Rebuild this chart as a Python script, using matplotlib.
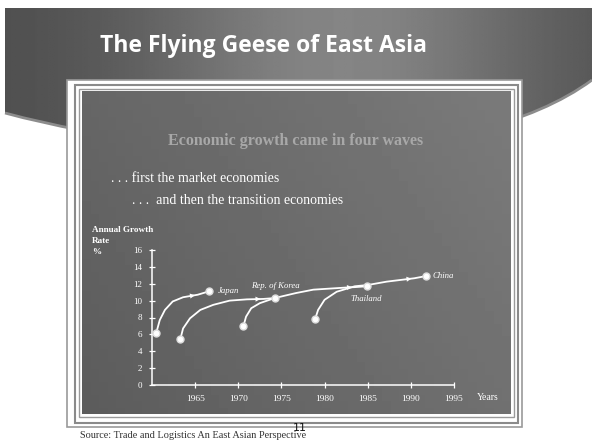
import numpy as np
import matplotlib
matplotlib.use("Agg")
import matplotlib.pyplot as plt
from matplotlib.path import Path
from matplotlib.patches import PathPatch, Rectangle

# four waves (year, growth rate %)
japan_x = [1960.5, 1960.9, 1961.5, 1962.4, 1963.6, 1965.3, 1966.6]
japan_y = [6.2, 7.7, 8.9, 9.9, 10.4, 10.7, 11.1]
korea_x = [1963.3, 1963.6, 1964.4, 1965.6, 1967.1, 1969.0, 1971.0, 1972.9, 1974.2]
korea_y = [5.5, 6.7, 7.9, 8.9, 9.5, 10.0, 10.15, 10.2, 10.3]
thai_x = [1970.6, 1970.9, 1971.5, 1972.5, 1974.2, 1976.7, 1978.7, 1982.5, 1983.5, 1984.9]
thai_y = [7.0, 8.1, 9.1, 9.7, 10.3, 10.9, 11.3, 11.55, 11.6, 11.7]
china_x = [1978.9, 1979.25, 1980.0, 1981.4, 1983.5, 1985.0, 1987.2, 1990.4, 1991.7]
china_y = [7.8, 8.9, 10.1, 11.05, 11.7, 11.85, 12.25, 12.65, 12.9]

series = [(japan_x, japan_y), (korea_x, korea_y), (thai_x, thai_y), (china_x, china_y)]
arrow_idx = [5, 7, 8, 7]          # where the arrow heads sit on each line
labels = ["Japan", "Rep. of Korea", "Thailand", "China"]

years = [1965, 1970, 1975, 1980, 1985, 1990, 1995]
rates = [0, 2, 4, 6, 8, 10, 12, 14, 16]

serif = ["Liberation Serif", "DejaVu Serif"]

fig = plt.figure(figsize=(5.92, 4.43), dpi=100)
bg = fig.add_axes([0, 0, 1, 1])
bg.set_xlim(0, 592)
bg.set_ylim(443, 0)
bg.axis("off")

# curved grey banner at the top
verts = [(5, 8), (592, 8), (592, 80), (470, 170), (200, 165), (5, 113), (5, 8)]
codes = [Path.MOVETO, Path.LINETO, Path.LINETO, Path.CURVE4, Path.CURVE4, Path.CURVE4, Path.CLOSEPOLY]
banner = PathPatch(Path(verts, codes), facecolor="none", edgecolor="none")
bg.add_patch(banner)
xx = np.linspace(0, 1, 300)
shade = 0.30 + 0.22 * np.exp(-((xx - 0.58) / 0.35) ** 2)
grad = np.tile(shade, (40, 1))
im = bg.imshow(grad, cmap="gray", vmin=0, vmax=1, extent=(0, 592, 180, 0), aspect="auto", zorder=1)
im.set_clip_path(banner)
edge_path = Path([(592, 80), (470, 170), (200, 165), (5, 113)], [Path.MOVETO, Path.CURVE4, Path.CURVE4, Path.CURVE4])
bg.add_patch(PathPatch(edge_path, facecolor="none", edgecolor="#8c8c8c", lw=2, zorder=1.5))

bg.text(264, 46, "The Flying Geese of East Asia", color="white", fontsize=16.5,
        fontweight="bold", family="Open Sans", ha="center", va="center", zorder=3)

# slide frame
bg.add_patch(Rectangle((67, 80), 455, 347, facecolor="white", edgecolor="#9a9a9a", lw=1.2, zorder=2))
bg.add_patch(Rectangle((75, 85), 443, 338, facecolor="white", edgecolor="#8a8a8a", lw=1.5, zorder=2))
bg.add_patch(Rectangle((79, 89), 435, 328, facecolor="white", edgecolor="#9a9a9a", lw=1.0, zorder=2))
panel = Rectangle((82, 91), 429, 323, facecolor="none", edgecolor="none", zorder=2)
bg.add_patch(panel)
gy, gx = np.mgrid[0:1:50j, 0:1:50j]
pgrad = 0.36 + 0.08 * gx + 0.04 * (1 - gy)
pim = bg.imshow(pgrad, cmap="gray", vmin=0, vmax=1, extent=(82, 511, 414, 91), aspect="auto", zorder=2.1)
pim.set_clip_path(panel)

bg.text(296, 141, "Economic growth came in four waves", color="#a8a8a8", fontsize=11.5,
        fontweight="bold", family=serif, ha="center", va="center", zorder=3)
bg.text(111, 178, ". . . first the market economies", color="white", fontsize=10,
        family=serif, ha="left", va="center", zorder=3)
bg.text(132, 200, ". . .  and then the transition economies", color="white", fontsize=10,
        family=serif, ha="left", va="center", zorder=3)
for txt, ty in [("Annual Growth", 230), ("Rate", 241), ("%", 252)]:
    bg.text(92, ty, txt, color="white", fontsize=6.6, fontweight="bold",
            family=serif, ha="left", va="center", zorder=3)
bg.text(477, 397, "Years", color="white", fontsize=7, family=serif, ha="left", va="center", zorder=3)

bg.text(80, 436, "Source: Trade and Logistics An East Asian Perspective", color="#333333",
        fontsize=7.4, family=serif, ha="left", va="center", zorder=3)
bg.text(300, 428, "11", color="#111111", fontsize=8, ha="center", va="center", zorder=4)

# the chart itself
ax = fig.add_axes([152 / 592, 1 - 385 / 443, 302 / 592, 135 / 443])
ax.patch.set_alpha(0)
ax.set_xlim(1960, 1995)
ax.set_ylim(0, 16)
for s in ["top", "right"]:
    ax.spines[s].set_visible(False)
for s in ["left", "bottom"]:
    ax.spines[s].set_color("white")
    ax.spines[s].set_linewidth(1.1)
ax.set_xticks(years)
ax.set_yticks(rates)
ax.tick_params(colors="white", direction="inout", length=4, width=0.9, labelsize=6.5, pad=5)
ax.tick_params(axis="x", labelsize=6.8)
for t in ax.get_xticklabels() + ax.get_yticklabels():
    t.set_family(serif)

for (sx, sy), ai in zip(series, arrow_idx):
    ax.plot(sx, sy, color="white", lw=1.3, clip_on=False, zorder=3)
    ax.plot([sx[0], sx[-1]], [sy[0], sy[-1]], "o", ms=5, color="white",
            mec="#dddddd", clip_on=False, zorder=4)
    ax.annotate("", xy=(sx[ai], sy[ai]), xytext=(sx[ai - 1], sy[ai - 1]),
                arrowprops=dict(arrowstyle="-|>", color="white", lw=0.01, mutation_scale=9),
                zorder=4)

lab_pos = [(japan_x[-1] + 1.0, japan_y[-1], "left", "center"),
           (1971.5, 11.3, "left", "bottom"),
           (1983.0, 10.2, "left", "center"),
           (china_x[-1] + 0.8, china_y[-1], "left", "center")]
for name, (lx, ly, ha, va) in zip(labels, lab_pos):
    ax.text(lx, ly, name, color="white", fontsize=6.3, style="italic", family=serif,
            ha=ha, va=va, zorder=5)

fig.savefig("out.png", dpi=100)
